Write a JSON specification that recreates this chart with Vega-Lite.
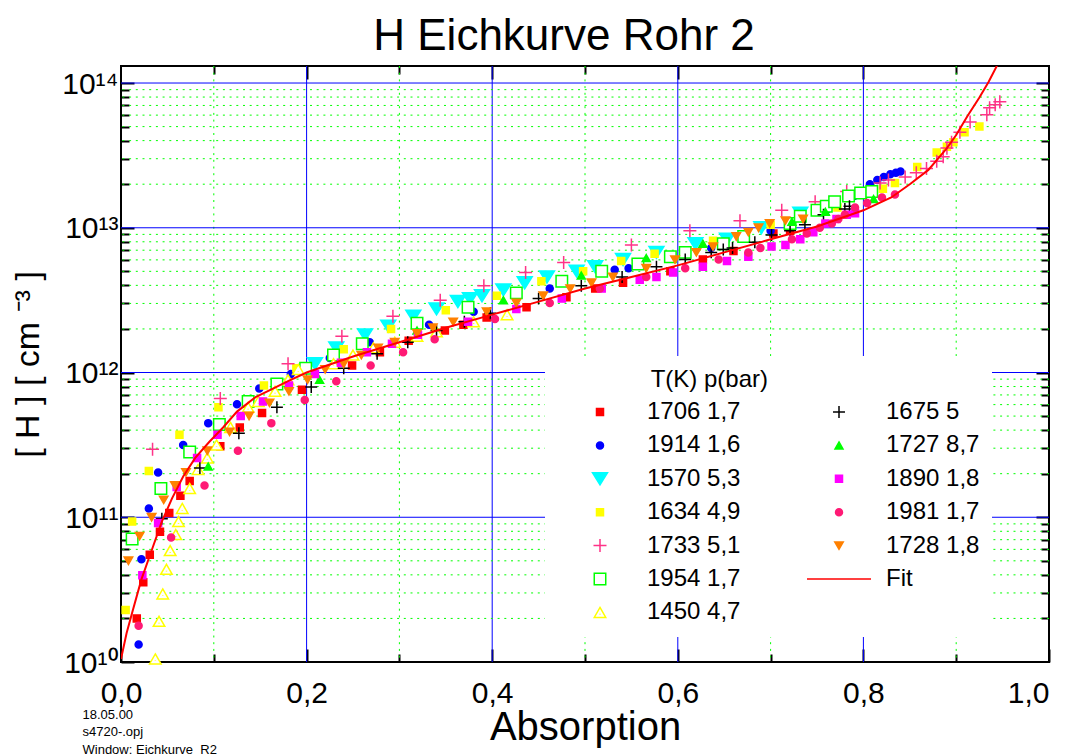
{
"$schema": "https://vega.github.io/schema/vega-lite/v6.json",
"width": 928, "height": 596,
"autosize": {"type": "none"},
"padding": {"left": 121, "top": 66, "right": 25, "bottom": 94},
"title": {"text": "H Eichkurve Rohr 2", "fontSize": 44, "font": "Liberation Sans", "fontWeight": "normal", "color": "#000000", "anchor": "middle", "frame": "group", "dx": -21, "offset": 6},
"datasets": {
"points": [
{"series":"1706 1,7","absorption":0.017,"H":2.00e10},{"series":"1706 1,7","absorption":0.024,"H":3.55e10},{"series":"1706 1,7","absorption":0.031,"H":5.50e10},{"series":"1706 1,7","absorption":0.042,"H":7.94e10},{"series":"1706 1,7","absorption":0.052,"H":1.07e11},{"series":"1706 1,7","absorption":0.064,"H":1.41e11},{"series":"1706 1,7","absorption":0.074,"H":1.78e11},{"series":"1706 1,7","absorption":0.107,"H":3.09e11},{"series":"1706 1,7","absorption":0.128,"H":4.17e11},{"series":"1706 1,7","absorption":0.152,"H":5.25e11},{"series":"1706 1,7","absorption":0.195,"H":7.59e11},{"series":"1706 1,7","absorption":0.249,"H":1.12e12},{"series":"1706 1,7","absorption":0.279,"H":1.38e12},{"series":"1706 1,7","absorption":0.310,"H":1.66e12},{"series":"1706 1,7","absorption":0.349,"H":1.95e12},{"series":"1706 1,7","absorption":0.369,"H":2.14e12},{"series":"1706 1,7","absorption":0.394,"H":2.40e12},{"series":"1706 1,7","absorption":0.437,"H":2.82e12},{"series":"1706 1,7","absorption":0.480,"H":3.31e12},{"series":"1706 1,7","absorption":0.511,"H":3.80e12},{"series":"1706 1,7","absorption":0.541,"H":4.17e12},{"series":"1706 1,7","absorption":0.592,"H":5.01e12},{"series":"1706 1,7","absorption":0.627,"H":6.03e12},{"series":"1706 1,7","absorption":0.660,"H":6.92e12},{"series":"1706 1,7","absorption":0.703,"H":9.12e12},{"series":"1706 1,7","absorption":0.721,"H":9.55e12},
{"series":"1914 1,6","absorption":0.019,"H":1.32e10},{"series":"1914 1,6","absorption":0.022,"H":5.13e10},{"series":"1914 1,6","absorption":0.030,"H":1.15e11},{"series":"1914 1,6","absorption":0.040,"H":2.04e11},{"series":"1914 1,6","absorption":0.067,"H":3.16e11},{"series":"1914 1,6","absorption":0.094,"H":4.47e11},{"series":"1914 1,6","absorption":0.125,"H":6.03e11},{"series":"1914 1,6","absorption":0.149,"H":7.76e11},{"series":"1914 1,6","absorption":0.183,"H":9.77e11},{"series":"1914 1,6","absorption":0.225,"H":1.26e12},{"series":"1914 1,6","absorption":0.268,"H":1.62e12},{"series":"1914 1,6","absorption":0.332,"H":2.14e12},{"series":"1914 1,6","absorption":0.380,"H":2.63e12},{"series":"1914 1,6","absorption":0.462,"H":3.80e12},{"series":"1914 1,6","absorption":0.532,"H":5.13e12},{"series":"1914 1,6","absorption":0.547,"H":5.25e12},{"series":"1914 1,6","absorption":0.636,"H":7.24e12},{"series":"1914 1,6","absorption":0.700,"H":9.55e12},{"series":"1914 1,6","absorption":0.760,"H":1.32e13},{"series":"1914 1,6","absorption":0.790,"H":1.66e13},{"series":"1914 1,6","absorption":0.807,"H":2.00e13},{"series":"1914 1,6","absorption":0.815,"H":2.14e13},{"series":"1914 1,6","absorption":0.822,"H":2.24e13},{"series":"1914 1,6","absorption":0.829,"H":2.34e13},{"series":"1914 1,6","absorption":0.835,"H":2.40e13},{"series":"1914 1,6","absorption":0.840,"H":2.45e13},
{"series":"1570 5,3","absorption":0.209,"H":1.15e12},{"series":"1570 5,3","absorption":0.232,"H":1.48e12},{"series":"1570 5,3","absorption":0.263,"H":1.82e12},{"series":"1570 5,3","absorption":0.288,"H":2.09e12},{"series":"1570 5,3","absorption":0.315,"H":2.45e12},{"series":"1570 5,3","absorption":0.340,"H":2.75e12},{"series":"1570 5,3","absorption":0.363,"H":3.09e12},{"series":"1570 5,3","absorption":0.376,"H":3.24e12},{"series":"1570 5,3","absorption":0.389,"H":3.39e12},{"series":"1570 5,3","absorption":0.412,"H":3.72e12},{"series":"1570 5,3","absorption":0.435,"H":4.17e12},{"series":"1570 5,3","absorption":0.459,"H":4.57e12},{"series":"1570 5,3","absorption":0.491,"H":5.01e12},{"series":"1570 5,3","absorption":0.511,"H":5.37e12},{"series":"1570 5,3","absorption":0.541,"H":6.03e12},{"series":"1570 5,3","absorption":0.577,"H":6.76e12},{"series":"1570 5,3","absorption":0.619,"H":7.76e12},{"series":"1570 5,3","absorption":0.653,"H":8.32e12},{"series":"1570 5,3","absorption":0.690,"H":1.00e13},{"series":"1570 5,3","absorption":0.732,"H":1.26e13},
{"series":"1634 4,9","absorption":0.005,"H":2.29e10},{"series":"1634 4,9","absorption":0.012,"H":9.33e10},{"series":"1634 4,9","absorption":0.030,"H":2.09e11},{"series":"1634 4,9","absorption":0.063,"H":3.72e11},{"series":"1634 4,9","absorption":0.105,"H":5.75e11},{"series":"1634 4,9","absorption":0.154,"H":8.13e11},{"series":"1634 4,9","absorption":0.189,"H":1.07e12},{"series":"1634 4,9","absorption":0.240,"H":1.45e12},{"series":"1634 4,9","absorption":0.291,"H":2.00e12},{"series":"1634 4,9","absorption":0.350,"H":2.69e12},{"series":"1634 4,9","absorption":0.405,"H":3.39e12},{"series":"1634 4,9","absorption":0.453,"H":4.27e12},{"series":"1634 4,9","absorption":0.498,"H":5.01e12},{"series":"1634 4,9","absorption":0.539,"H":5.89e12},{"series":"1634 4,9","absorption":0.575,"H":6.61e12},{"series":"1634 4,9","absorption":0.638,"H":8.13e12},{"series":"1634 4,9","absorption":0.700,"H":1.05e13},{"series":"1634 4,9","absorption":0.772,"H":1.38e13},{"series":"1634 4,9","absorption":0.821,"H":1.86e13},{"series":"1634 4,9","absorption":0.834,"H":2.04e13},{"series":"1634 4,9","absorption":0.858,"H":2.63e13},{"series":"1634 4,9","absorption":0.879,"H":3.31e13},{"series":"1634 4,9","absorption":0.890,"H":3.63e13},{"series":"1634 4,9","absorption":0.897,"H":3.89e13},{"series":"1634 4,9","absorption":0.909,"H":4.57e13},{"series":"1634 4,9","absorption":0.925,"H":5.01e13},
{"series":"1733 5,1","absorption":0.034,"H":2.95e11},{"series":"1733 5,1","absorption":0.107,"H":6.61e11},{"series":"1733 5,1","absorption":0.180,"H":1.15e12},{"series":"1733 5,1","absorption":0.238,"H":1.78e12},{"series":"1733 5,1","absorption":0.293,"H":2.45e12},{"series":"1733 5,1","absorption":0.344,"H":3.16e12},{"series":"1733 5,1","absorption":0.391,"H":3.98e12},{"series":"1733 5,1","absorption":0.436,"H":4.90e12},{"series":"1733 5,1","absorption":0.477,"H":5.75e12},{"series":"1733 5,1","absorption":0.550,"H":7.59e12},{"series":"1733 5,1","absorption":0.613,"H":9.55e12},{"series":"1733 5,1","absorption":0.667,"H":1.12e13},{"series":"1733 5,1","absorption":0.712,"H":1.32e13},{"series":"1733 5,1","absorption":0.748,"H":1.51e13},{"series":"1733 5,1","absorption":0.782,"H":1.78e13},{"series":"1733 5,1","absorption":0.818,"H":2.04e13},{"series":"1733 5,1","absorption":0.827,"H":2.14e13},{"series":"1733 5,1","absorption":0.845,"H":2.24e13},{"series":"1733 5,1","absorption":0.857,"H":2.40e13},{"series":"1733 5,1","absorption":0.868,"H":2.57e13},{"series":"1733 5,1","absorption":0.879,"H":2.88e13},{"series":"1733 5,1","absorption":0.886,"H":3.09e13},{"series":"1733 5,1","absorption":0.890,"H":3.55e13},{"series":"1733 5,1","absorption":0.895,"H":3.89e13},{"series":"1733 5,1","absorption":0.904,"H":4.57e13},{"series":"1733 5,1","absorption":0.915,"H":5.37e13},{"series":"1733 5,1","absorption":0.933,"H":6.03e13},{"series":"1733 5,1","absorption":0.936,"H":6.76e13},{"series":"1733 5,1","absorption":0.942,"H":7.08e13},{"series":"1733 5,1","absorption":0.947,"H":7.41e13},
{"series":"1954 1,7","absorption":0.012,"H":7.08e10},{"series":"1954 1,7","absorption":0.043,"H":1.58e11},{"series":"1954 1,7","absorption":0.074,"H":2.82e11},{"series":"1954 1,7","absorption":0.106,"H":4.37e11},{"series":"1954 1,7","absorption":0.137,"H":6.31e11},{"series":"1954 1,7","absorption":0.168,"H":8.32e11},{"series":"1954 1,7","absorption":0.199,"H":1.07e12},{"series":"1954 1,7","absorption":0.229,"H":1.32e12},{"series":"1954 1,7","absorption":0.260,"H":1.58e12},{"series":"1954 1,7","absorption":0.319,"H":2.19e12},{"series":"1954 1,7","absorption":0.374,"H":2.82e12},{"series":"1954 1,7","absorption":0.426,"H":3.55e12},{"series":"1954 1,7","absorption":0.475,"H":4.27e12},{"series":"1954 1,7","absorption":0.518,"H":5.01e12},{"series":"1954 1,7","absorption":0.557,"H":5.62e12},{"series":"1954 1,7","absorption":0.592,"H":6.31e12},{"series":"1954 1,7","absorption":0.608,"H":6.76e12},{"series":"1954 1,7","absorption":0.649,"H":7.76e12},{"series":"1954 1,7","absorption":0.671,"H":8.71e12},{"series":"1954 1,7","absorption":0.721,"H":1.07e13},{"series":"1954 1,7","absorption":0.732,"H":1.20e13},{"series":"1954 1,7","absorption":0.750,"H":1.32e13},{"series":"1954 1,7","absorption":0.760,"H":1.41e13},{"series":"1954 1,7","absorption":0.769,"H":1.51e13},{"series":"1954 1,7","absorption":0.784,"H":1.66e13},{"series":"1954 1,7","absorption":0.797,"H":1.74e13},{"series":"1954 1,7","absorption":0.809,"H":1.78e13},
{"series":"1450 4,7","absorption":0.037,"H":1.05e10},{"series":"1450 4,7","absorption":0.041,"H":1.91e10},{"series":"1450 4,7","absorption":0.045,"H":2.95e10},{"series":"1450 4,7","absorption":0.049,"H":4.37e10},{"series":"1450 4,7","absorption":0.053,"H":5.89e10},{"series":"1450 4,7","absorption":0.059,"H":7.59e10},{"series":"1450 4,7","absorption":0.062,"H":9.33e10},{"series":"1450 4,7","absorption":0.066,"H":1.15e11},{"series":"1450 4,7","absorption":0.074,"H":1.58e11},{"series":"1450 4,7","absorption":0.083,"H":2.14e11},{"series":"1450 4,7","absorption":0.093,"H":2.57e11},{"series":"1450 4,7","absorption":0.103,"H":3.16e11},{"series":"1450 4,7","absorption":0.118,"H":4.17e11},{"series":"1450 4,7","absorption":0.137,"H":5.75e11},{"series":"1450 4,7","absorption":0.148,"H":6.31e11},{"series":"1450 4,7","absorption":0.166,"H":7.41e11},{"series":"1450 4,7","absorption":0.180,"H":8.91e11},{"series":"1450 4,7","absorption":0.191,"H":1.05e12},{"series":"1450 4,7","absorption":0.229,"H":1.15e12},{"series":"1450 4,7","absorption":0.250,"H":1.32e12},{"series":"1450 4,7","absorption":0.272,"H":1.48e12},{"series":"1450 4,7","absorption":0.295,"H":1.62e12},{"series":"1450 4,7","absorption":0.319,"H":1.78e12},{"series":"1450 4,7","absorption":0.340,"H":1.91e12},{"series":"1450 4,7","absorption":0.380,"H":2.24e12},{"series":"1450 4,7","absorption":0.416,"H":2.51e12},
{"series":"1675 5","absorption":0.044,"H":9.77e10},{"series":"1675 5","absorption":0.085,"H":2.19e11},{"series":"1675 5","absorption":0.127,"H":3.80e11},{"series":"1675 5","absorption":0.168,"H":5.75e11},{"series":"1675 5","absorption":0.205,"H":7.94e11},{"series":"1675 5","absorption":0.240,"H":1.07e12},{"series":"1675 5","absorption":0.276,"H":1.35e12},{"series":"1675 5","absorption":0.309,"H":1.62e12},{"series":"1675 5","absorption":0.340,"H":1.95e12},{"series":"1675 5","absorption":0.370,"H":2.24e12},{"series":"1675 5","absorption":0.398,"H":2.57e12},{"series":"1675 5","absorption":0.450,"H":3.24e12},{"series":"1675 5","absorption":0.496,"H":3.98e12},{"series":"1675 5","absorption":0.540,"H":4.57e12},{"series":"1675 5","absorption":0.577,"H":5.37e12},{"series":"1675 5","absorption":0.608,"H":6.03e12},{"series":"1675 5","absorption":0.636,"H":6.76e12},{"series":"1675 5","absorption":0.649,"H":7.08e12},{"series":"1675 5","absorption":0.659,"H":7.24e12},{"series":"1675 5","absorption":0.683,"H":7.94e12},{"series":"1675 5","absorption":0.701,"H":8.91e12},{"series":"1675 5","absorption":0.721,"H":9.55e12},{"series":"1675 5","absorption":0.737,"H":1.05e13},{"series":"1675 5","absorption":0.757,"H":1.23e13},{"series":"1675 5","absorption":0.780,"H":1.35e13},{"series":"1675 5","absorption":0.785,"H":1.41e13},
{"series":"1727 8,7","absorption":0.094,"H":2.24e11},{"series":"1727 8,7","absorption":0.214,"H":8.91e11},{"series":"1727 8,7","absorption":0.319,"H":1.95e12},{"series":"1727 8,7","absorption":0.412,"H":3.16e12},{"series":"1727 8,7","absorption":0.496,"H":4.68e12},{"series":"1727 8,7","absorption":0.566,"H":6.17e12},{"series":"1727 8,7","absorption":0.627,"H":7.76e12},{"series":"1727 8,7","absorption":0.723,"H":1.10e13},{"series":"1727 8,7","absorption":0.759,"H":1.29e13},{"series":"1727 8,7","absorption":0.811,"H":1.58e13},
{"series":"1890 1,8","absorption":0.023,"H":3.98e10},{"series":"1890 1,8","absorption":0.040,"H":9.12e10},{"series":"1890 1,8","absorption":0.060,"H":1.62e11},{"series":"1890 1,8","absorption":0.082,"H":2.57e11},{"series":"1890 1,8","absorption":0.104,"H":3.72e11},{"series":"1890 1,8","absorption":0.129,"H":5.01e11},{"series":"1890 1,8","absorption":0.153,"H":6.31e11},{"series":"1890 1,8","absorption":0.181,"H":8.13e11},{"series":"1890 1,8","absorption":0.209,"H":9.77e11},{"series":"1890 1,8","absorption":0.237,"H":1.17e12},{"series":"1890 1,8","absorption":0.265,"H":1.38e12},{"series":"1890 1,8","absorption":0.292,"H":1.58e12},{"series":"1890 1,8","absorption":0.320,"H":1.82e12},{"series":"1890 1,8","absorption":0.374,"H":2.24e12},{"series":"1890 1,8","absorption":0.426,"H":2.75e12},{"series":"1890 1,8","absorption":0.475,"H":3.24e12},{"series":"1890 1,8","absorption":0.518,"H":3.80e12},{"series":"1890 1,8","absorption":0.559,"H":4.37e12},{"series":"1890 1,8","absorption":0.577,"H":4.57e12},{"series":"1890 1,8","absorption":0.595,"H":4.90e12},{"series":"1890 1,8","absorption":0.627,"H":5.37e12},{"series":"1890 1,8","absorption":0.653,"H":5.89e12},{"series":"1890 1,8","absorption":0.676,"H":6.31e12},{"series":"1890 1,8","absorption":0.701,"H":7.41e12},{"series":"1890 1,8","absorption":0.716,"H":7.59e12},{"series":"1890 1,8","absorption":0.732,"H":8.32e12},{"series":"1890 1,8","absorption":0.746,"H":9.33e12},{"series":"1890 1,8","absorption":0.759,"H":1.07e13},{"series":"1890 1,8","absorption":0.771,"H":1.15e13},{"series":"1890 1,8","absorption":0.782,"H":1.23e13},{"series":"1890 1,8","absorption":0.791,"H":1.26e13},
{"series":"1981 1,7","absorption":0.019,"H":1.78e10},{"series":"1981 1,7","absorption":0.054,"H":7.24e10},{"series":"1981 1,7","absorption":0.090,"H":1.66e11},{"series":"1981 1,7","absorption":0.126,"H":2.88e11},{"series":"1981 1,7","absorption":0.162,"H":4.47e11},{"series":"1981 1,7","absorption":0.198,"H":6.46e11},{"series":"1981 1,7","absorption":0.232,"H":8.71e11},{"series":"1981 1,7","absorption":0.269,"H":1.12e12},{"series":"1981 1,7","absorption":0.304,"H":1.38e12},{"series":"1981 1,7","absorption":0.338,"H":1.70e12},{"series":"1981 1,7","absorption":0.403,"H":2.34e12},{"series":"1981 1,7","absorption":0.462,"H":3.02e12},{"series":"1981 1,7","absorption":0.516,"H":3.80e12},{"series":"1981 1,7","absorption":0.566,"H":4.57e12},{"series":"1981 1,7","absorption":0.608,"H":5.25e12},{"series":"1981 1,7","absorption":0.644,"H":6.03e12},{"series":"1981 1,7","absorption":0.676,"H":6.76e12},{"series":"1981 1,7","absorption":0.689,"H":7.24e12},{"series":"1981 1,7","absorption":0.723,"H":8.32e12},{"series":"1981 1,7","absorption":0.739,"H":9.12e12},{"series":"1981 1,7","absorption":0.753,"H":1.00e13},{"series":"1981 1,7","absorption":0.766,"H":1.07e13},{"series":"1981 1,7","absorption":0.773,"H":1.15e13},{"series":"1981 1,7","absorption":0.780,"H":1.23e13},{"series":"1981 1,7","absorption":0.791,"H":1.38e13},{"series":"1981 1,7","absorption":0.804,"H":1.48e13},{"series":"1981 1,7","absorption":0.820,"H":1.62e13},{"series":"1981 1,7","absorption":0.834,"H":1.70e13},
{"series":"1728 1,8","absorption":0.008,"H":5.01e10},{"series":"1728 1,8","absorption":0.020,"H":7.41e10},{"series":"1728 1,8","absorption":0.033,"H":1.00e11},{"series":"1728 1,8","absorption":0.046,"H":1.32e11},{"series":"1728 1,8","absorption":0.058,"H":1.66e11},{"series":"1728 1,8","absorption":0.070,"H":2.04e11},{"series":"1728 1,8","absorption":0.093,"H":2.88e11},{"series":"1728 1,8","absorption":0.117,"H":3.89e11},{"series":"1728 1,8","absorption":0.138,"H":5.01e11},{"series":"1728 1,8","absorption":0.160,"H":6.17e11},{"series":"1728 1,8","absorption":0.181,"H":7.41e11},{"series":"1728 1,8","absorption":0.201,"H":8.91e11},{"series":"1728 1,8","absorption":0.220,"H":1.05e12},{"series":"1728 1,8","absorption":0.240,"H":1.15e12},{"series":"1728 1,8","absorption":0.259,"H":1.32e12},{"series":"1728 1,8","absorption":0.277,"H":1.48e12},{"series":"1728 1,8","absorption":0.295,"H":1.62e12},{"series":"1728 1,8","absorption":0.319,"H":1.86e12},{"series":"1728 1,8","absorption":0.336,"H":2.04e12},{"series":"1728 1,8","absorption":0.358,"H":2.24e12},{"series":"1728 1,8","absorption":0.394,"H":2.63e12},{"series":"1728 1,8","absorption":0.426,"H":3.02e12},{"series":"1728 1,8","absorption":0.455,"H":3.39e12},{"series":"1728 1,8","absorption":0.484,"H":3.80e12},{"series":"1728 1,8","absorption":0.507,"H":4.17e12},{"series":"1728 1,8","absorption":0.530,"H":4.57e12},{"series":"1728 1,8","absorption":0.566,"H":5.25e12},{"series":"1728 1,8","absorption":0.597,"H":6.03e12},{"series":"1728 1,8","absorption":0.620,"H":6.76e12},{"series":"1728 1,8","absorption":0.638,"H":7.41e12},{"series":"1728 1,8","absorption":0.663,"H":8.71e12},{"series":"1728 1,8","absorption":0.676,"H":9.33e12},{"series":"1728 1,8","absorption":0.687,"H":1.00e13},{"series":"1728 1,8","absorption":0.699,"H":1.07e13},{"series":"1728 1,8","absorption":0.716,"H":1.12e13},{"series":"1728 1,8","absorption":0.735,"H":1.15e13}
],
"fit": [
{"series":"Fit","absorption":0.000,"H":1.05e10},{"series":"Fit","absorption":0.006,"H":1.58e10},{"series":"Fit","absorption":0.012,"H":2.19e10},{"series":"Fit","absorption":0.022,"H":3.72e10},{"series":"Fit","absorption":0.033,"H":5.89e10},{"series":"Fit","absorption":0.044,"H":9.33e10},{"series":"Fit","absorption":0.055,"H":1.35e11},{"series":"Fit","absorption":0.067,"H":1.91e11},{"series":"Fit","absorption":0.080,"H":2.57e11},{"series":"Fit","absorption":0.095,"H":3.31e11},{"series":"Fit","absorption":0.110,"H":4.17e11},{"series":"Fit","absorption":0.125,"H":5.37e11},{"series":"Fit","absorption":0.145,"H":6.76e11},{"series":"Fit","absorption":0.161,"H":7.59e11},{"series":"Fit","absorption":0.180,"H":8.71e11},{"series":"Fit","absorption":0.200,"H":1.00e12},{"series":"Fit","absorption":0.250,"H":1.29e12},{"series":"Fit","absorption":0.300,"H":1.62e12},{"series":"Fit","absorption":0.350,"H":2.04e12},{"series":"Fit","absorption":0.400,"H":2.51e12},{"series":"Fit","absorption":0.450,"H":3.09e12},{"series":"Fit","absorption":0.500,"H":3.80e12},{"series":"Fit","absorption":0.550,"H":4.57e12},{"series":"Fit","absorption":0.600,"H":5.50e12},{"series":"Fit","absorption":0.650,"H":6.76e12},{"series":"Fit","absorption":0.700,"H":8.32e12},{"series":"Fit","absorption":0.750,"H":1.02e13},{"series":"Fit","absorption":0.800,"H":1.32e13},{"series":"Fit","absorption":0.830,"H":1.62e13},{"series":"Fit","absorption":0.850,"H":2.00e13},{"series":"Fit","absorption":0.870,"H":2.51e13},{"series":"Fit","absorption":0.890,"H":3.55e13},{"series":"Fit","absorption":0.900,"H":4.37e13},{"series":"Fit","absorption":0.912,"H":5.89e13},{"series":"Fit","absorption":0.925,"H":7.94e13},{"series":"Fit","absorption":0.935,"H":1.02e14},{"series":"Fit","absorption":0.944,"H":1.32e14}
]
},
"resolve": {"axis": {"x": "independent", "y": "independent"}},
"layer": [
{
"data": {"values": [{"gx":0.1},{"gx":0.3},{"gx":0.5},{"gx":0.7},{"gx":0.9}]},
"mark": {"type": "rule", "color": "#00FF00", "strokeWidth": 1, "strokeDash": [2, 4.7]},
"encoding": {"x": {"field": "gx", "type": "quantitative", "scale": {"domain": [0, 1], "nice": false, "zero": false},
 "axis": {"orient": "top", "values": [0.1,0.3,0.5,0.7,0.9], "labels": false, "tickSize": -8, "title": null}}}
},
{
"data": {"values": [{"gx":0.2},{"gx":0.4},{"gx":0.6},{"gx":0.8}]},
"mark": {"type": "rule", "color": "#0000FF", "strokeWidth": 1},
"encoding": {"x": {"field": "gx", "type": "quantitative", "scale": {"domain": [0, 1], "nice": false, "zero": false},
 "axis": {"orient": "top", "values": [0.2,0.4,0.6,0.8], "labels": false, "tickSize": -13, "title": null}}}
},
{
"data": {"values": [{"gy":2e10},{"gy":3e10},{"gy":4e10},{"gy":5e10},{"gy":6e10},{"gy":7e10},{"gy":8e10},{"gy":9e10},{"gy":2e11},{"gy":3e11},{"gy":4e11},{"gy":5e11},{"gy":6e11},{"gy":7e11},{"gy":8e11},{"gy":9e11},{"gy":2e12},{"gy":3e12},{"gy":4e12},{"gy":5e12},{"gy":6e12},{"gy":7e12},{"gy":8e12},{"gy":9e12},{"gy":2e13},{"gy":3e13},{"gy":4e13},{"gy":5e13},{"gy":6e13},{"gy":7e13},{"gy":8e13},{"gy":9e13}]},
"mark": {"type": "rule", "color": "#00FF00", "strokeWidth": 1, "strokeDash": [2, 4.7]},
"encoding": {"y": {"field": "gy", "type": "quantitative", "scale": {"type": "log", "domain": [1e10, 1.311e14], "nice": false, "zero": false},
 "axis": {"orient": "right", "values": [2e10,3e10,4e10,5e10,6e10,7e10,8e10,9e10,2e11,3e11,4e11,5e11,6e11,7e11,8e11,9e11,2e12,3e12,4e12,5e12,6e12,7e12,8e12,9e12,2e13,3e13,4e13,5e13,6e13,7e13,8e13,9e13], "labels": false, "tickSize": -8, "title": null}}}
},
{
"data": {"values": [{"gy":1e11},{"gy":1e12},{"gy":1e13},{"gy":1e14}]},
"mark": {"type": "rule", "color": "#0000FF", "strokeWidth": 1},
"encoding": {"y": {"field": "gy", "type": "quantitative", "scale": {"type": "log", "domain": [1e10, 1.311e14], "nice": false, "zero": false},
 "axis": {"orient": "right", "values": [1e11,1e12,1e13,1e14], "labels": false, "tickSize": -13, "title": null}}}
},
{
"data": {"name": "points"},
"mark": {"type": "point", "size": 49, "strokeWidth": 1.5, "opacity": 1},
"encoding": {
 "x": {"field": "absorption", "type": "quantitative", "scale": {"domain": [0, 1], "nice": false, "zero": false},
  "axis": {"orient": "bottom", "values": [0.1,0.3,0.5,0.7,0.9], "labels": false, "tickSize": -8,
   "title": ["18.05.00", "s4720-.opj", "Window: Eichkurve_R2"], "titleFontSize": 13, "titleAnchor": "start", "titleAlign": "left", "titleX": -39, "titleY": 56, "titleBaseline": "alphabetic", "titleLineHeight": 17.5}},
 "y": {"field": "H", "type": "quantitative", "scale": {"type": "log", "domain": [1e10, 1.311e14], "nice": false, "zero": false},
  "axis": {"orient": "left", "values": [2e10,3e10,4e10,5e10,6e10,7e10,8e10,9e10,2e11,3e11,4e11,5e11,6e11,7e11,8e11,9e11,2e12,3e12,4e12,5e12,6e12,7e12,8e12,9e12,2e13,3e13,4e13,5e13,6e13,7e13,8e13,9e13], "labels": false, "tickSize": -8, "title": null}},
 "shape": {"field": "series", "type": "nominal",
  "scale": {"domain": ["1706 1,7","1914 1,6","1570 5,3","1634 4,9","1733 5,1","1954 1,7","1450 4,7","1675 5","1727 8,7","1890 1,8","1981 1,7","1728 1,8","Fit"],
   "range": ["square","circle","M-2.14,-1.71L2.14,-1.71L0,1.71Z","square","M-1.86,0L1.86,0M0,-1.86L0,1.86","M-1.64,-1.64L1.64,-1.64L1.64,1.64L-1.64,1.64Z","M0,-1.43L1.64,1.43L-1.64,1.43ZM0,0.42L0,0.6","M-1.71,0L1.71,0M0,-1.71L0,1.71","M0,-1L1.14,1L-1.14,1Z","square","circle","M-1.21,-1.05L1.21,-1.05L0,1.05Z","M-9.14,0L9.14,0"]},
  "legend": {"title": "T(K) p(bar)"}},
 "fill": {"field": "series", "type": "nominal",
  "scale": {"domain": ["1706 1,7","1914 1,6","1570 5,3","1634 4,9","1733 5,1","1954 1,7","1450 4,7","1675 5","1727 8,7","1890 1,8","1981 1,7","1728 1,8","Fit"],
   "range": ["#FF0000","#0000FF","#00FFFF","#FFFF00","transparent","#FFFFFF","#FFFFFF","transparent","#00FF00","#FF00FF","#FF1A75","#FF8000","transparent"]},
  "legend": {"title": "T(K) p(bar)"}},
 "stroke": {"field": "series", "type": "nominal",
  "scale": {"domain": ["1706 1,7","1914 1,6","1570 5,3","1634 4,9","1733 5,1","1954 1,7","1450 4,7","1675 5","1727 8,7","1890 1,8","1981 1,7","1728 1,8","Fit"],
   "range": ["#FF0000","#0000FF","#00FFFF","#FFFF00","#FF3388","#00FF00","#FFFF00","#000000","#00FF00","#FF00FF","#FF1A75","#FF8000","#FF0000"]},
  "legend": {"title": "T(K) p(bar)"}}
}
},
{
"data": {"name": "fit"},
"mark": {"type": "line", "strokeWidth": 2, "clip": true},
"encoding": {
 "x": {"field": "absorption", "type": "quantitative", "scale": {"domain": [0, 1], "nice": false, "zero": false},
  "axis": {"orient": "bottom", "values": [0,0.2,0.4,0.6,0.8,1.0], "labelExpr": "replace(format(datum.value, '.1f'), '.', ',')", "labelFontSize": 30, "labelBaseline": "top", "labelPadding": 29, "tickSize": -13,
   "labelAlign": {"condition": {"test": "datum.value > 0.99", "value": "right"}, "value": "center"},
   "title": "Absorption", "titleFontSize": 40, "titleY": 77, "titleBaseline": "alphabetic"}},
 "y": {"field": "H", "type": "quantitative", "scale": {"type": "log", "domain": [1e10, 1.311e14], "nice": false, "zero": false},
  "axis": {"orient": "left", "values": [1e10,1e11,1e12,1e13,1e14], "labelExpr": "datum.value < 5e10 ? '10¹⁰' : datum.value < 5e11 ? '10¹¹' : datum.value < 5e12 ? '10¹²' : datum.value < 5e13 ? '10¹³' : '10¹⁴'", "labelFontSize": 30, "labelBaseline": "middle", "labelPadding": 16, "labelOffset": 1, "tickSize": -13,
   "title": "[ H ] [ cm ⁻³ ]", "titleFontSize": 34, "titleX": -83, "titleY": 298, "titleBaseline": "alphabetic"}},
 "stroke": {"field": "series", "type": "nominal"}
}
}
],
"config": {
 "font": "Liberation Sans",
 "background": "#FFFFFF",
 "view": {"stroke": "#000000", "strokeWidth": 2},
 "axis": {"domain": false, "grid": false, "ticks": true, "tickColor": "#000000", "tickWidth": 2, "labelColor": "#000000", "titleColor": "#000000", "titleFontWeight": "normal", "labelFont": "Liberation Sans", "titleFont": "Liberation Sans", "labelOverlap": false},
 "legend": {"orient": "none", "legendX": 424, "legendY": 290, "direction": "vertical", "columns": 2, "columnPadding": 55, "rowPadding": 9.4,
  "symbolSize": 49, "symbolStrokeWidth": 1.5, "symbolOffset": 31, "symbolOpacity": 1, "labelOffset": 35,
  "labelFontSize": 24, "labelFont": "Liberation Sans", "labelColor": "#000000", "labelLimit": 400,
  "titleFontSize": 24, "titleFont": "Liberation Sans", "titleFontWeight": "normal", "titleColor": "#000000", "titleAnchor": "middle", "titleAlign": "right", "titlePadding": 8,
  "padding": 12, "fillColor": "#FFFFFF"}
}
}
